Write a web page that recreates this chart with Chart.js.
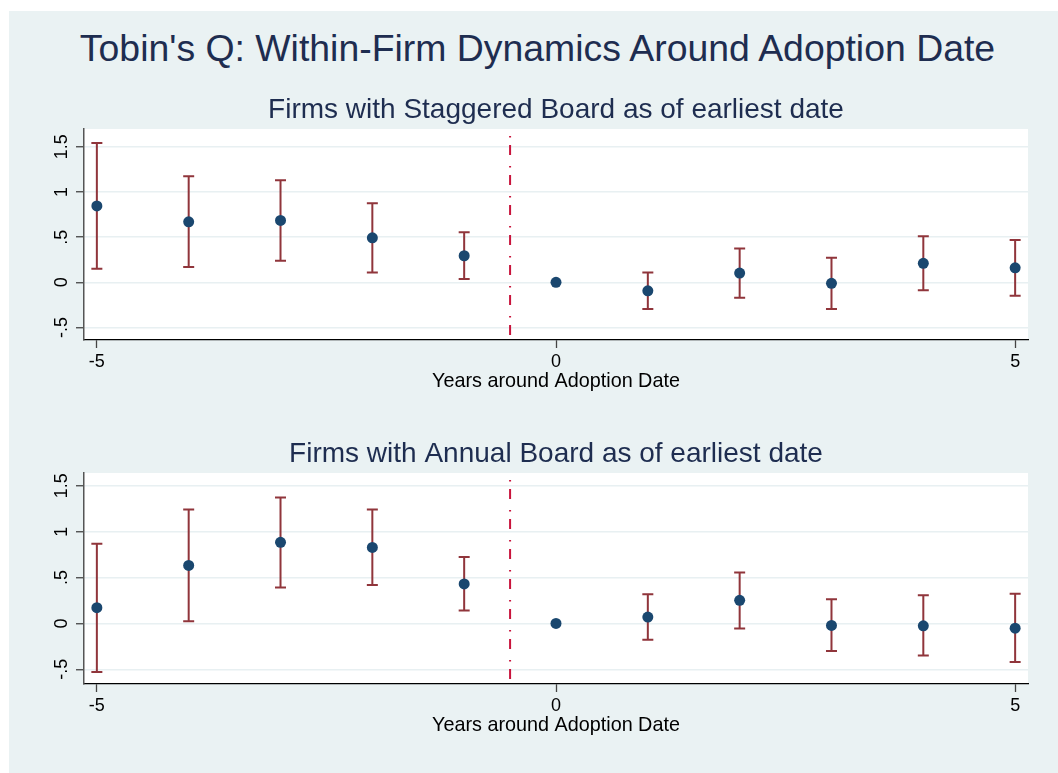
<!DOCTYPE html>
<html>
<head>
<meta charset="utf-8">
<script src="https://cdn.jsdelivr.net/npm/chart.js@4"></script>
<style>
  body { margin: 0; width: 1058px; height: 773px; background: #fff; position: relative; overflow: hidden;
         font-family: "Liberation Sans", Arial, sans-serif; }
  #bg { position: absolute; left: 9px; top: 11px; right: 0; bottom: 0; background: #eaf2f3; }
  #title { position: absolute; left: 9px; width: 1057px; top: 30px; height: 37px; line-height: 37px;
           text-align: center; font-size: 37.4px; color: #1e2d50; white-space: nowrap; }
  .panel { position: absolute; left: 0; width: 1058px; height: 320px; }
</style>
</head>
<body>
<div id="bg"></div>
<div id="title">Tobin's Q: Within-Firm Dynamics Around Adoption Date</div>
<div class="panel" style="top:85px"><canvas id="staggeredChart"></canvas></div>
<div class="panel" style="top:429px"><canvas id="annualChart"></canvas></div>

<script>
// event time
const years = [-5, -4, -3, -2, -1, 0, 1, 2, 3, 4, 5];

// staggered board panel: point estimate + 95% CI
const staggeredCoef = [0.845, 0.669, 0.684, 0.492, 0.294, 0, -0.093, 0.103, -0.011, 0.210, 0.161];
const staggeredHi   = [1.541, 1.173, 1.129, 0.875, 0.555, null, 0.110, 0.375, 0.272, 0.511, 0.467];
const staggeredLo   = [0.150, 0.169, 0.238, 0.110, 0.036, null, -0.295, -0.170, -0.295, -0.088, -0.148];

// annual board panel
const annualCoef = [0.172, 0.632, 0.884, 0.829, 0.431, 0, 0.069, 0.252, -0.022, -0.026, -0.051];
const annualHi   = [0.869, 1.241, 1.372, 1.241, 0.723, null, 0.318, 0.555, 0.263, 0.307, 0.325];
const annualLo   = [-0.529, 0.025, 0.391, 0.420, 0.142, null, -0.179, -0.055, -0.299, -0.350, -0.420];

// axes
const xTickValues = [-5, 0, 5];
const yTickValues = [-0.5, 0, 0.5, 1, 1.5];
const yTickLabels = ['-.5', '0', '.5', '1', '1.5'];
const adoptionLine = -0.5;

const FONT = '"Liberation Sans", Arial, sans-serif';
const NAVY = '#1e2d50';

// white plot region + dashed adoption line + CI whiskers
const ciPlugin = {
  id: 'ciBars',
  beforeDraw(chart) {
    const { ctx, chartArea: a } = chart;
    ctx.save();
    ctx.fillStyle = '#fff';
    ctx.fillRect(a.left, a.top, a.right - a.left, a.bottom - a.top);
    ctx.restore();
  },
  beforeDatasetsDraw(chart, args, opts) {
    const { ctx, chartArea: a, scales: { x, y } } = chart;
    ctx.save();
    const lx = x.getPixelForValue(adoptionLine);
    ctx.strokeStyle = '#c8143c';
    ctx.lineWidth = 2;
    ctx.setLineDash([10, 11, 1.5, 7.5]);
    ctx.lineDashOffset = 14;
    ctx.beginPath();
    ctx.moveTo(lx, a.top);
    ctx.lineTo(lx, a.bottom);
    ctx.stroke();
    ctx.setLineDash([]);

    ctx.strokeStyle = '#90353b';
    ctx.lineWidth = 2;
    opts.lo.forEach((lo, i) => {
      const hi = opts.hi[i];
      if (lo == null || hi == null) return;
      const px = x.getPixelForValue(years[i]);
      const y1 = y.getPixelForValue(lo);
      const y2 = y.getPixelForValue(hi);
      ctx.beginPath();
      ctx.moveTo(px, y1); ctx.lineTo(px, y2);
      ctx.moveTo(px - 5.5, y1); ctx.lineTo(px + 5.5, y1);
      ctx.moveTo(px - 5.5, y2); ctx.lineTo(px + 5.5, y2);
      ctx.stroke();
    });
    ctx.restore();
  }
};

function makePanel(canvasId, subtitle, coef, lo, hi, yMin, yMax) {
  const ctx = document.getElementById(canvasId).getContext('2d');
  return new Chart(ctx, {
    type: 'scatter',
    data: {
      datasets: [{
        data: years.map((yr, i) => ({ x: yr, y: coef[i] })),
        backgroundColor: '#1a476f',
        borderWidth: 0,
        pointRadius: 5.5,
        pointHoverRadius: 5.5
      }]
    },
    options: {
      responsive: true,
      maintainAspectRatio: false,
      animation: false,
      layout: { padding: { left: 0, right: 30, top: 0, bottom: 0 } },
      plugins: {
        legend: { display: false },
        tooltip: { enabled: false },
        title: {
          display: true,
          text: subtitle,
          fullSize: false,
          color: NAVY,
          font: { family: FONT, size: 28, weight: 'normal', lineHeight: 1.2 },
          padding: { top: 8.2, bottom: 2.2 }
        },
        ciBars: { lo, hi }
      },
      scales: {
        x: {
          type: 'linear',
          min: -5.14,
          max: 5.14,
          afterBuildTicks: s => { s.ticks = xTickValues.map(v => ({ value: v })); },
          afterFit: s => { s.height = 65; },
          ticks: {
            autoSkip: false,
            maxRotation: 0,
            padding: 5,
            color: '#000',
            font: { family: FONT, size: 18, lineHeight: 1 },
            callback: v => String(v)
          },
          grid: { drawOnChartArea: false, tickLength: 8, tickColor: '#444', tickWidth: 1.3 },
          border: { color: '#000', width: 1.3 },
          title: {
            display: true,
            text: 'Years around Adoption Date',
            color: '#000',
            font: { family: FONT, size: 19.8, lineHeight: 1 },
            padding: { top: 0, bottom: 14 }
          }
        },
        y: {
          type: 'linear',
          min: yMin,
          max: yMax,
          afterBuildTicks: s => { s.ticks = yTickValues.map(v => ({ value: v })); },
          afterFit: s => { s.width = 84; },
          ticks: {
            minRotation: 90,
            maxRotation: 90,
            crossAlign: 'center',
            padding: 1.5,
            color: '#000',
            font: { family: FONT, size: 18, lineHeight: 1 },
            callback: (v, i) => yTickLabels[i]
          },
          grid: { color: '#e8f0f2', lineWidth: 1.5, tickLength: 8, tickColor: '#444', tickWidth: 1.3 },
          border: { color: '#555', width: 1.5 }
        }
      }
    },
    plugins: [ciPlugin]
  });
}

makePanel('staggeredChart', 'Firms with Staggered Board as of earliest date',
  staggeredCoef, staggeredLo, staggeredHi, -0.637, 1.695);
makePanel('annualChart', 'Firms with Annual Board as of earliest date',
  annualCoef, annualLo, annualHi, -0.66, 1.64);
</script>
</body>
</html>
